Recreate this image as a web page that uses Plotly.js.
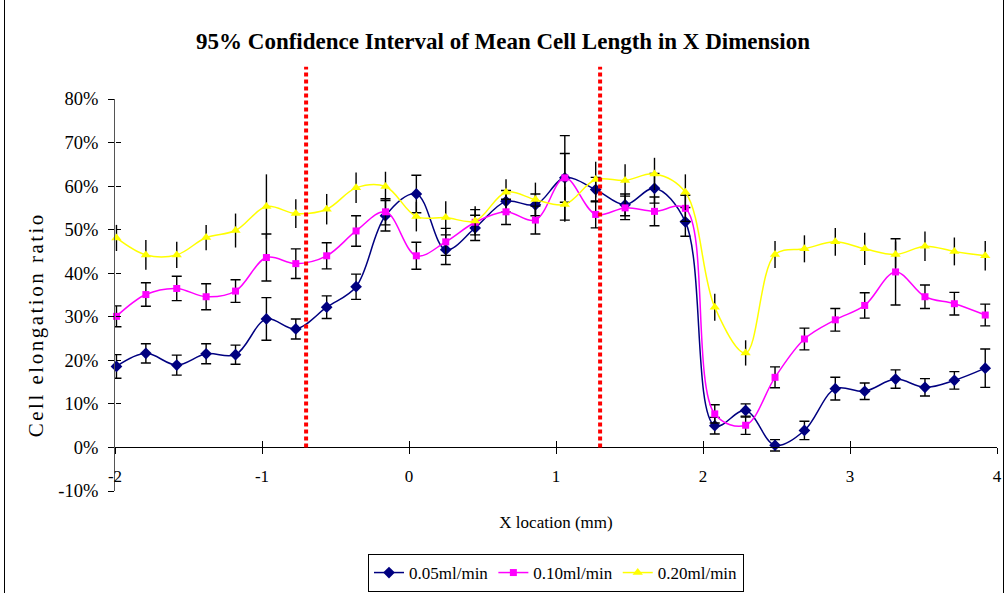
<!DOCTYPE html>
<html>
<head>
<meta charset="utf-8">
<script src="https://cdn.plot.ly/plotly-3.0.1.min.js"></script>
<style>
html, body { margin: 0; padding: 0; background: #fff; }
#wrap { position: relative; width: 1006px; height: 593px; }
#chart { width: 1006px; height: 593px; }
#frame { position: absolute; left: 4px; top: 0; width: 998px; height: 593px;
         border-left: 1px solid #000; border-right: 1px solid #000; pointer-events: none; }
#chart .annotation-text { letter-spacing: 2.5px; }
</style>
</head>
<body>
<div id="wrap"><div id="chart"></div><div id="frame"></div></div>
<script>
// X location (mm) of each measurement
const xLocationMm = [-1.99, -1.79, -1.58, -1.38, -1.18, -0.97, -0.77, -0.56, -0.36, -0.16,
                     0.05, 0.25, 0.45, 0.66, 0.86, 1.06, 1.27, 1.47, 1.67, 1.88,
                     2.08, 2.29, 2.49, 2.69, 2.90, 3.10, 3.31, 3.51, 3.71, 3.92];

const seriesNames = ['0.05ml/min', '0.10ml/min', '0.20ml/min'];

// Mean cell elongation ratio (%)
const flow005 = [18.6, 21.6, 18.9, 21.5, 21.3, 29.5, 27.2, 32.2, 36.9, 53.2,
                 58.2, 45.4, 50.4, 56.5, 55.7, 61.9, 59.2, 55.7, 59.5, 51.8,
                 5.0, 8.5, 0.5, 3.9, 13.5, 12.9, 15.7, 13.8, 15.4, 18.2];
const flow010 = [30.1, 35.1, 36.5, 34.6, 35.9, 43.6, 42.2, 44.0, 49.7, 54.1,
                 44.0, 47.2, 51.7, 54.1, 52.2, 61.9, 53.5, 55.0, 54.2, 54.9,
                 7.7, 5.1, 16.1, 24.9, 29.3, 32.6, 40.3, 34.6, 33.0, 30.4];
const flow020 = [48.1, 44.2, 44.2, 48.2, 49.8, 55.3, 53.7, 54.7, 59.6, 59.9,
                 53.0, 52.8, 52.0, 58.6, 56.9, 55.8, 61.5, 61.3, 62.8, 58.6,
                 32.2, 21.7, 44.3, 45.6, 47.2, 45.6, 44.3, 46.2, 45.0, 44.0];

// 95% confidence half-widths (%)
const ci005 = [2.7, 2.2, 2.3, 2.3, 2.2, 4.9, 2.3, 2.6, 2.9, 3.5,
               4.3, 3.4, 2.9, 2.5, 2.5, 5.6, 2.8, 2.5, 3.4, 3.3,
               1.9, 1.5, 1.3, 2.1, 2.6, 1.9, 2.1, 2.0, 2.0, 4.4];
const ci010 = [2.4, 2.7, 2.8, 3.0, 2.6, 5.4, 3.4, 3.0, 3.5, 3.0,
               3.1, 3.1, 2.9, 2.9, 3.2, 9.7, 3.1, 2.7, 3.3, 3.0,
               2.1, 2.1, 2.4, 2.5, 2.6, 2.9, 7.6, 2.7, 2.6, 2.5];
const ci020 = [3.0, 3.4, 3.0, 2.9, 3.9, 7.4, 3.3, 3.5, 3.5, 3.4,
               3.4, 3.7, 3.4, 3.0, 3.9, 4.0, 4.1, 3.7, 3.7, 4.1,
               3.1, 2.9, 3.1, 3.1, 3.2, 3.7, 3.0, 3.4, 3.2, 3.4];

// Boundary markers (mm)
const boundaryX = [-0.7, 1.3];

// Axis ticks
const yTickVals = [-10, 0, 10, 20, 30, 40, 50, 60, 70, 80];
const yTickText = ['-10%', '0%', '10%', '20%', '30%', '40%', '50%', '60%', '70%', '80%'];
const xTickVals = [-2, -1, 0, 1, 2, 3, 4];
const xTickText = ['-2', '-1', '0', '1', '2', '3', '4'];

const FONT = 'Liberation Serif, Times New Roman, serif';

function mkTrace(name, y, err, color, symbol, size, cap) {
  return {
    type: 'scatter', mode: 'lines+markers', name: name,
    x: xLocationMm, y: y,
    line: { color: color, width: 1.5, shape: 'spline', smoothing: 1 },
    marker: { color: color, symbol: symbol, size: size, line: { width: 0 } },
    error_y: { type: 'data', array: err, visible: true, color: '#000', thickness: 1.4, width: cap },
    cliponaxis: false
  };
}

const traces = [
  mkTrace(seriesNames[0], flow005, ci005, '#000080', 'diamond', 9, 5),
  mkTrace(seriesNames[1], flow010, ci010, '#FF00FF', 'square', 7, 5),
  mkTrace(seriesNames[2], flow020, ci020, '#FFFF00', 'triangle-up', 9, 0),
  { type: 'scatter', x: [null], y: [null], xaxis: 'x2', yaxis: 'y2', showlegend: false, hoverinfo: 'skip' }
];

const zeroFrac = (0 - (-10)) / (80 - (-10));

const shapes = boundaryX.map(function (bx) {
  return { type: 'line', xref: 'x', yref: 'paper', x0: bx, x1: bx, y0: zeroFrac, y1: 1.082,
           line: { color: '#FF0000', width: 4, dash: '4px,3px' }, layer: 'above' };
});

const layout = {
  width: 1006, height: 593,
  margin: { l: 115, r: 9, t: 99, b: 102, autoexpand: false },
  paper_bgcolor: '#fff', plot_bgcolor: '#fff',
  showlegend: true,
  title: { text: '<b>95% Confidence Interval of Mean Cell Length in X Dimension</b>',
           font: { family: FONT, size: 23, color: '#000' },
           x: 0.5, xref: 'container', xanchor: 'center', y: 1 - 41 / 593, yanchor: 'middle' },
  xaxis: {
    range: [-2, 4], anchor: 'free', position: zeroFrac, automargin: false,
    showline: true, linecolor: '#000', linewidth: 1, mirror: false,
    showgrid: false, zeroline: false,
    ticks: 'outside', ticklen: 6, tickcolor: '#000', tickwidth: 1,
    tickvals: xTickVals, ticktext: xTickText,
    tickfont: { family: FONT, size: 17, color: '#000' },
    ticklabelstandoff: 7,
    title: { text: 'X location (mm)', font: { family: FONT, size: 17, color: '#000' }, standoff: 31 }
  },
  yaxis: {
    range: [-10, 80], showline: true, linecolor: '#555', linewidth: 1, automargin: false,
    showgrid: false, zeroline: false,
    ticks: 'outside', ticklen: 6, tickcolor: '#000', tickwidth: 1,
    tickvals: yTickVals, ticktext: yTickText,
    tickfont: { family: FONT, size: 18.5, color: '#000' },
    ticklabelstandoff: 6
  },
  xaxis2: {
    range: [-2, 4], overlaying: 'x', anchor: 'free', position: zeroFrac,
    showline: false, showgrid: false, zeroline: false,
    ticks: 'inside', ticklen: 6, tickcolor: '#000', tickwidth: 1,
    tickvals: xTickVals, showticklabels: false
  },
  yaxis2: {
    range: [-10, 80], overlaying: 'y', anchor: 'free', position: 0, side: 'left',
    showline: false, showgrid: false, zeroline: false,
    ticks: 'inside', ticklen: 5, tickcolor: '#000', tickwidth: 1,
    tickvals: yTickVals, showticklabels: false
  },
  legend: {
    orientation: 'h', x: 0.5, xanchor: 'center',
    yref: 'container', y: 1 - 573 / 593, yanchor: 'middle',
    font: { family: FONT, size: 17, color: '#000' },
    bgcolor: '#fff', bordercolor: '#000', borderwidth: 1,
    itemwidth: 30, traceorder: 'normal'
  },
  annotations: [{
    text: 'Cell elongation ratio', textangle: -90, showarrow: false,
    xref: 'paper', yref: 'paper', x: (36 - 115) / 882, xanchor: 'center',
    y: (491 - 325) / 392, yanchor: 'middle',
    font: { family: FONT, size: 21, color: '#000' }
  }],
  shapes: shapes,
  hovermode: false
};

Plotly.newPlot('chart', traces, layout, { staticPlot: true, displayModeBar: false });
</script>
</body>
</html>
